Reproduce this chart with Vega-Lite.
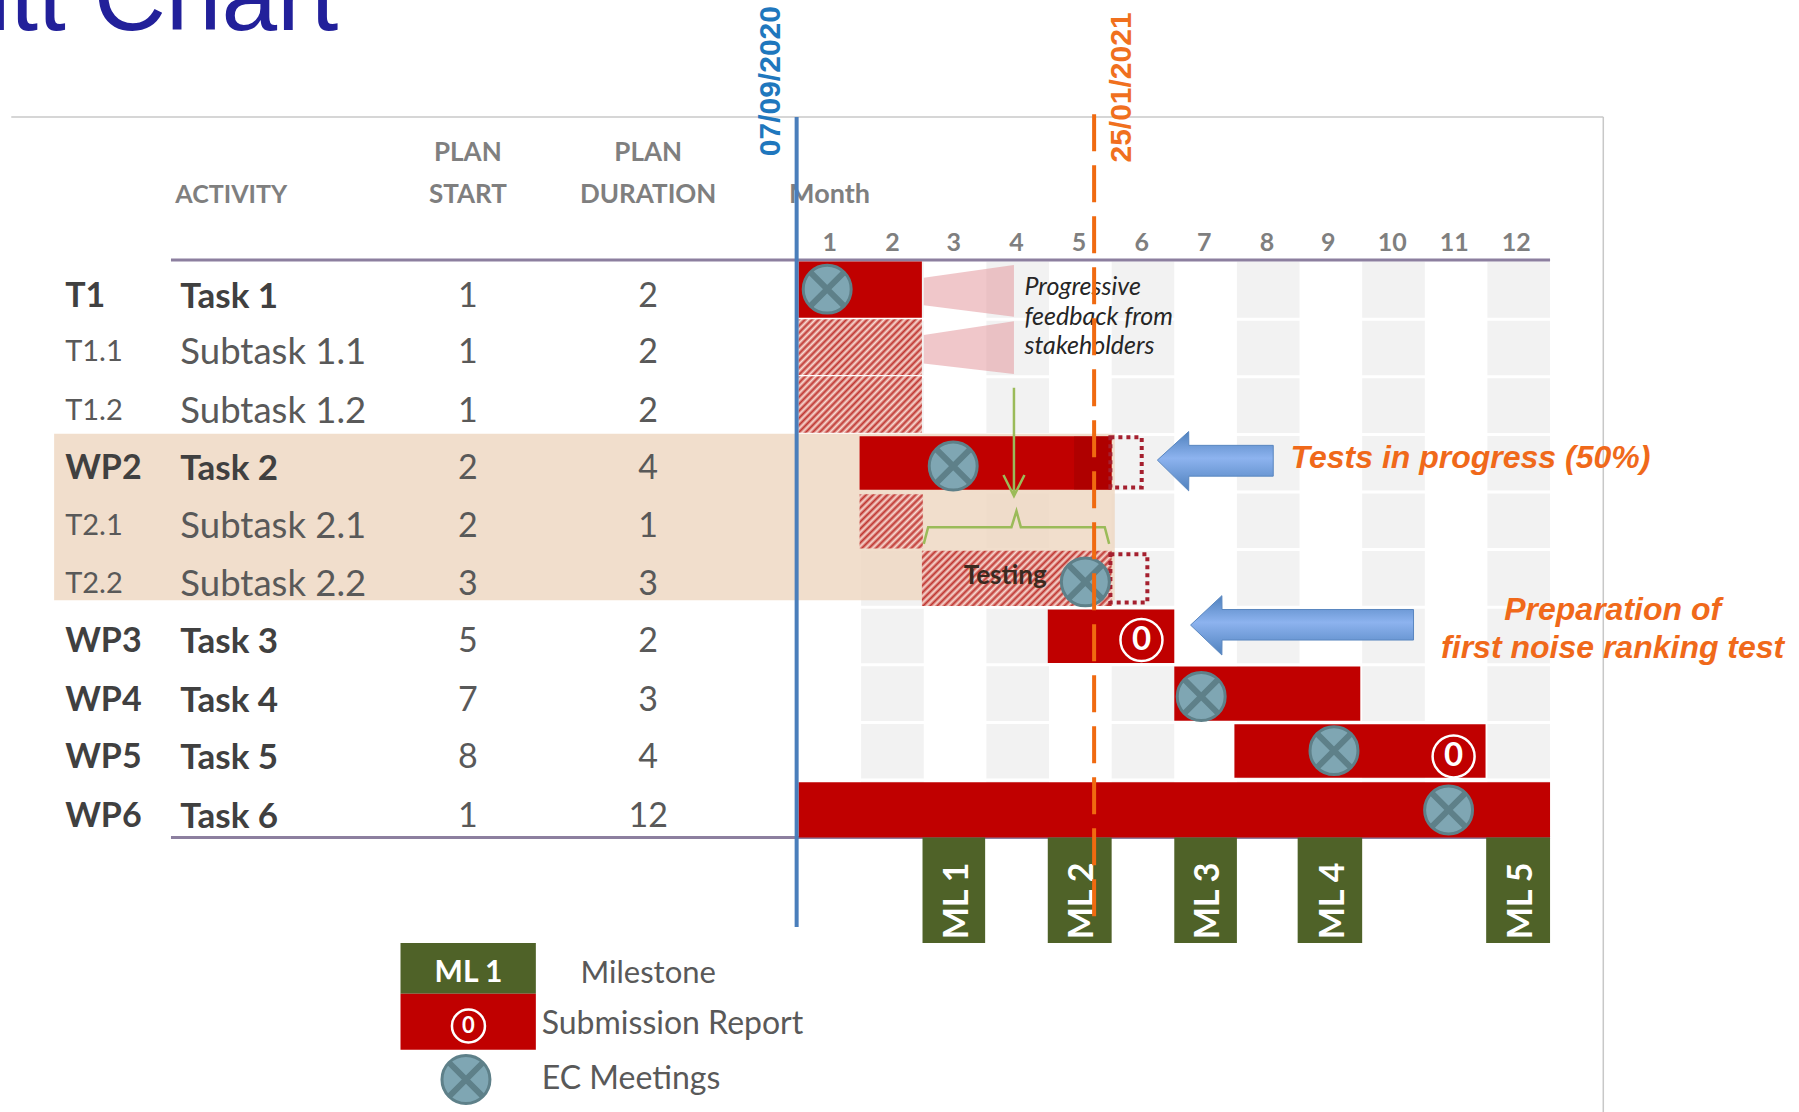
{
"$schema":"https://vega.github.io/schema/vega-lite/v6.json",
"width":1799,"height":1112,"padding":0,"autosize":{"type":"none"},"background":"white",
"config":{"view":{"stroke":null},"text":{"font":"Lato"}},
"params":[{"name":"hatchStops","value":[
{"offset":0,"color":"#bf3530"},{"offset":0.0147,"color":"#f9dcd4"},{"offset":0.0294,"color":"#bf3530"},{"offset":0.0441,"color":"#f9dcd4"},{"offset":0.0588,"color":"#bf3530"},{"offset":0.0735,"color":"#f9dcd4"},{"offset":0.0882,"color":"#bf3530"},{"offset":0.1029,"color":"#f9dcd4"},{"offset":0.1176,"color":"#bf3530"},{"offset":0.1324,"color":"#f9dcd4"},{"offset":0.1471,"color":"#bf3530"},{"offset":0.1618,"color":"#f9dcd4"},{"offset":0.1765,"color":"#bf3530"},{"offset":0.1912,"color":"#f9dcd4"},{"offset":0.2059,"color":"#bf3530"},{"offset":0.2206,"color":"#f9dcd4"},{"offset":0.2353,"color":"#bf3530"},{"offset":0.25,"color":"#f9dcd4"},{"offset":0.2647,"color":"#bf3530"},{"offset":0.2794,"color":"#f9dcd4"},{"offset":0.2941,"color":"#bf3530"},{"offset":0.3088,"color":"#f9dcd4"},{"offset":0.3235,"color":"#bf3530"},{"offset":0.3382,"color":"#f9dcd4"},{"offset":0.3529,"color":"#bf3530"},{"offset":0.3676,"color":"#f9dcd4"},{"offset":0.3824,"color":"#bf3530"},{"offset":0.3971,"color":"#f9dcd4"},{"offset":0.4118,"color":"#bf3530"},{"offset":0.4265,"color":"#f9dcd4"},{"offset":0.4412,"color":"#bf3530"},{"offset":0.4559,"color":"#f9dcd4"},{"offset":0.4706,"color":"#bf3530"},{"offset":0.4853,"color":"#f9dcd4"},{"offset":0.5,"color":"#bf3530"},{"offset":0.5147,"color":"#f9dcd4"},{"offset":0.5294,"color":"#bf3530"},{"offset":0.5441,"color":"#f9dcd4"},{"offset":0.5588,"color":"#bf3530"},{"offset":0.5735,"color":"#f9dcd4"},{"offset":0.5882,"color":"#bf3530"},{"offset":0.6029,"color":"#f9dcd4"},{"offset":0.6176,"color":"#bf3530"},{"offset":0.6324,"color":"#f9dcd4"},{"offset":0.6471,"color":"#bf3530"},{"offset":0.6618,"color":"#f9dcd4"},{"offset":0.6765,"color":"#bf3530"},{"offset":0.6912,"color":"#f9dcd4"},{"offset":0.7059,"color":"#bf3530"},{"offset":0.7206,"color":"#f9dcd4"},{"offset":0.7353,"color":"#bf3530"},{"offset":0.75,"color":"#f9dcd4"},{"offset":0.7647,"color":"#bf3530"},{"offset":0.7794,"color":"#f9dcd4"},{"offset":0.7941,"color":"#bf3530"},{"offset":0.8088,"color":"#f9dcd4"},{"offset":0.8235,"color":"#bf3530"},{"offset":0.8382,"color":"#f9dcd4"},{"offset":0.8529,"color":"#bf3530"},{"offset":0.8676,"color":"#f9dcd4"},{"offset":0.8824,"color":"#bf3530"},{"offset":0.8971,"color":"#f9dcd4"},{"offset":0.9118,"color":"#bf3530"},{"offset":0.9265,"color":"#f9dcd4"},{"offset":0.9412,"color":"#bf3530"},{"offset":0.9559,"color":"#f9dcd4"},{"offset":0.9706,"color":"#bf3530"},{"offset":0.9853,"color":"#f9dcd4"},{"offset":1,"color":"#bf3530"}
]}],
"datasets":{
"tasks":[
{"id":"T1","name":"Task 1","start":1,"duration":2,"level":"task","month":0,"month_end":1.97,"row":0,"row_end":0.976,"label_row":0.578,"fill":"solid"},
{"id":"T1.1","name":"Subtask 1.1","start":1,"duration":2,"level":"sub","month":0,"month_end":1.97,"row":1.0,"row_end":1.97,"label_row":1.55,"fill":"hatch2"},
{"id":"T1.2","name":"Subtask 1.2","start":1,"duration":2,"level":"sub","month":0,"month_end":1.97,"row":1.99,"row_end":2.97,"label_row":2.57,"fill":"hatch2"},
{"id":"WP2","name":"Task 2","start":2,"duration":4,"level":"task","month":0.975,"month_end":5,"row":3.03,"row_end":3.96,"label_row":3.566,"fill":"solid"},
{"id":"T2.1","name":"Subtask 2.1","start":2,"duration":1,"level":"sub","month":0.975,"month_end":1.985,"row":4.04,"row_end":4.98,"label_row":4.58,"fill":"hatch1"},
{"id":"T2.2","name":"Subtask 2.2","start":3,"duration":3,"level":"sub","month":1.97,"month_end":5,"row":5.02,"row_end":5.98,"label_row":5.58,"fill":"hatch3"},
{"id":"WP3","name":"Task 3","start":5,"duration":2,"level":"task","month":3.98,"month_end":6,"row":6.04,"row_end":6.97,"label_row":6.57,"fill":"solid"},
{"id":"WP4","name":"Task 4","start":7,"duration":3,"level":"task","month":6,"month_end":8.97,"row":7.03,"row_end":7.97,"label_row":7.59,"fill":"solid"},
{"id":"WP5","name":"Task 5","start":8,"duration":4,"level":"task","month":6.96,"month_end":10.97,"row":8.03,"row_end":8.96,"label_row":8.59,"fill":"solid"},
{"id":"WP6","name":"Task 6","start":1,"duration":12,"level":"task","month":0,"month_end":12,"row":9.04,"row_end":10,"label_row":9.6,"fill":"solid"}
],
"meetings":[
{"task":"Task 1","month":0.458,"row":0.478},
{"task":"Task 2","month":2.47,"row":3.55},
{"task":"Subtask 2.2","month":4.58,"row":5.56},
{"task":"Task 4","month":6.43,"row":7.55},
{"task":"Task 5","month":8.55,"row":8.49},
{"task":"Task 6","month":10.38,"row":9.52},
{"task":"legend","month":-5.31,"row":14.2}
],
"reports":[
{"task":"Task 3","month":5.476,"row":6.57,"label":"0"},
{"task":"Task 5","month":10.46,"row":8.59,"label":"0"}
],
"milestones":[
{"label":"ML 1","month":1.98,"month_end":2.98,"row":10,"row_end":11.83,"label_row":11.1,"mid":2.55},
{"label":"ML 2","month":3.98,"month_end":5,"row":10,"row_end":11.83,"label_row":11.1,"mid":4.55},
{"label":"ML 3","month":6,"month_end":7,"row":10,"row_end":11.83,"label_row":11.1,"mid":6.55},
{"label":"ML 4","month":7.97,"month_end":9,"row":10,"row_end":11.83,"label_row":11.1,"mid":8.55},
{"label":"ML 5","month":10.98,"month_end":12,"row":10,"row_end":11.83,"label_row":11.1,"mid":11.55}
],
"arrows":[
{"arrow":"a","month":5.73,"row":3.446,"row_end":3.446},
{"arrow":"a","month":6.23,"row":2.95,"row_end":3.98},
{"arrow":"a","month":6.232,"row":3.19,"row_end":3.725},
{"arrow":"a","month":7.58,"row":3.19,"row_end":3.725},
{"arrow":"b","month":6.26,"row":6.31,"row_end":6.31},
{"arrow":"b","month":6.76,"row":5.80,"row_end":6.83},
{"arrow":"b","month":6.762,"row":6.04,"row_end":6.57},
{"arrow":"b","month":9.82,"row":6.04,"row_end":6.57}
]
},
"encoding":{
"x":{"field":"month","type":"quantitative","scale":{"domain":[-12.75,15.975],"nice":false,"zero":false},"axis":null},
"y":{"field":"row","type":"quantitative","scale":{"domain":[-4.542,14.764],"reverse":true,"nice":false,"zero":false},"axis":null}
},
"layer":[
{"data":{"values":[{"month":1,"month_end":2,"row":0,"row_end":10},{"month":3,"month_end":4,"row":0,"row_end":10},{"month":5,"month_end":6,"row":0,"row_end":10},{"month":7,"month_end":8,"row":0,"row_end":10},{"month":9,"month_end":10,"row":0,"row_end":10},{"month":11,"month_end":12,"row":0,"row_end":10}]},
 "mark":{"type":"rect","fill":"#f2f2f2"},"encoding":{"x2":{"field":"month_end"},"y2":{"field":"row_end"}}},
{"data":{"values":[{"month":0,"month_end":12,"row":1},{"month":0,"month_end":12,"row":2},{"month":0,"month_end":12,"row":3},{"month":0,"month_end":12,"row":4},{"month":0,"month_end":12,"row":5},{"month":0,"month_end":12,"row":6},{"month":0,"month_end":12,"row":7},{"month":0,"month_end":12,"row":8},{"month":0,"month_end":12,"row":9}]},
 "mark":{"type":"rule","stroke":"white","strokeWidth":3},"encoding":{"x2":{"field":"month_end"}}},
{"data":{"values":[{"month":-11.886,"month_end":5.05,"row":2.99,"row_end":5.88}]},
 "mark":{"type":"rect","fill":"#eed6bf","opacity":0.8},"encoding":{"x2":{"field":"month_end"},"y2":{"field":"row_end"}}},
{"data":{"values":[{"month":-12.57,"month_end":12.85,"row":-2.51}]},
 "mark":{"type":"rule","stroke":"#c8c8c8","strokeWidth":1.5},"encoding":{"x2":{"field":"month_end"}}},
{"data":{"values":[{"month":12.85,"row":-2.51,"row_end":14.764}]},
 "mark":{"type":"rule","stroke":"#c8c8c8","strokeWidth":1.5},"encoding":{"y2":{"field":"row_end"}}},
{"data":{"values":[{"month":-10.02,"month_end":12,"row":-0.03},{"month":-10.02,"month_end":12,"row":10.0}]},
 "mark":{"type":"rule","stroke":"#8c7f9f","strokeWidth":3},"encoding":{"x2":{"field":"month_end"}}},
{"data":{"values":[{"label":"Gantt Chart","month":-7.35,"row":-4.02}]},
 "mark":{"type":"text","font":"Liberation Sans","fontSize":100,"align":"right","baseline":"alphabetic","fill":"#22209a"},"encoding":{"text":{"field":"label"}}},
{"data":{"values":[{"t":"a","month":2,"row":0.28,"row_end":0.757},{"t":"a","month":3.44,"row":0.06,"row_end":0.956},{"t":"b","month":2,"row":1.275,"row_end":1.77},{"t":"b","month":3.44,"row":1.036,"row_end":1.95}]},
 "mark":{"type":"area","orient":"vertical","fill":"#e28f95","opacity":0.5},"encoding":{"y2":{"field":"row_end"},"detail":{"field":"t"}}},
{"data":{"name":"tasks"},"transform":[{"filter":"datum.fill==='solid'"}],
 "mark":{"type":"rect","fill":"#c00000"},"encoding":{"x2":{"field":"month_end"},"y2":{"field":"row_end"}}},
{"data":{"name":"tasks"},"transform":[{"filter":"datum.fill==='hatch2'"}],
 "mark":{"type":"rect","fill":{"expr":"{gradient:'linear',x1:0,y1:0,x2:1.583,y2:0.7076,stops:hatchStops}"}},"encoding":{"x2":{"field":"month_end"},"y2":{"field":"row_end"}}},
{"data":{"name":"tasks"},"transform":[{"filter":"datum.fill==='hatch1'"}],
 "mark":{"type":"rect","fill":{"expr":"{gradient:'linear',x1:0,y1:0,x2:2.18,y2:1.88,stops:hatchStops}"}},"encoding":{"x2":{"field":"month_end"},"y2":{"field":"row_end"}}},
{"data":{"name":"tasks"},"transform":[{"filter":"datum.fill==='hatch3'"}],
 "mark":{"type":"rect","fill":{"expr":"{gradient:'linear',x1:0,y1:0,x2:1.166,y2:0.341,stops:hatchStops}"}},"encoding":{"x2":{"field":"month_end"},"y2":{"field":"row_end"}}},
{"data":{"values":[{"month":4.4,"month_end":5,"row":3.03,"row_end":3.96}]},
 "mark":{"type":"rect","fill":"#8f0000","opacity":0.35},"encoding":{"x2":{"field":"month_end"},"y2":{"field":"row_end"}}},
{"data":{"values":[{"month":4.98,"month_end":5.48,"row":3.05,"row_end":3.92},{"month":4.98,"month_end":5.57,"row":5.08,"row_end":5.92}]},
 "mark":{"type":"rect","fillOpacity":0,"stroke":"#a5202f","strokeWidth":4,"strokeDash":[4,4]},"encoding":{"x2":{"field":"month_end"},"y2":{"field":"row_end"}}},
{"data":{"name":"milestones"},"mark":{"type":"rect","fill":"#4f6228"},"encoding":{"x2":{"field":"month_end"},"y2":{"field":"row_end"}}},
{"data":{"name":"milestones"},"mark":{"type":"text","angle":270,"fontSize":34,"fontWeight":"bold","fill":"white","align":"center","baseline":"middle"},"encoding":{"x":{"field":"mid"},"y":{"field":"label_row"},"text":{"field":"label"}}},
{"data":{"values":[{"month":-6.355,"month_end":-4.194,"row":11.83,"row_end":12.71,"kind":"Milestone"}]},
 "mark":{"type":"rect","fill":"#4f6228"},"encoding":{"x2":{"field":"month_end"},"y2":{"field":"row_end"}}},
{"data":{"values":[{"month":-6.355,"month_end":-4.194,"row":12.71,"row_end":13.685,"kind":"Submission Report"}]},
 "mark":{"type":"rect","fill":"#c00000"},"encoding":{"x2":{"field":"month_end"},"y2":{"field":"row_end"}}},
{"data":{"values":[{"label":"ML 1","month":-5.27,"row":12.31}]},
 "mark":{"type":"text","fontSize":30,"fontWeight":"bold","fill":"white","align":"center","baseline":"middle","dy":2},"encoding":{"text":{"field":"label"}}},
{"data":{"values":[{"label":"Milestone","month":-2.4,"row":12.33}]},
 "mark":{"type":"text","fontSize":31,"fill":"#595959","align":"center","baseline":"middle","dy":2},"encoding":{"text":{"field":"label"}}},
{"data":{"values":[{"label":"Submission Report","month":-4.10,"row":13.2},{"label":"EC Meetings","month":-4.10,"row":14.16}]},
 "mark":{"type":"text","fontSize":32,"fill":"#595959","align":"left","baseline":"middle","dy":2},"encoding":{"text":{"field":"label"}}},
{"data":{"values":[{"label":"ACTIVITY","month":-9.95,"row":-1.175}]},
 "mark":{"type":"text","fontSize":25,"fontWeight":"bold","fill":"#7f7f7f","align":"left","baseline":"middle","dy":1},"encoding":{"text":{"field":"label"}}},
{"data":{"values":[{"label":"Month","month":-0.15,"row":-1.175}]},
 "mark":{"type":"text","fontSize":27,"fontWeight":"bold","fill":"#7f7f7f","align":"left","baseline":"middle","dy":1},"encoding":{"text":{"field":"label"}}},
{"data":{"values":[{"label":"PLAN","month":-5.28,"row":-1.91},{"label":"START","month":-5.28,"row":-1.175},{"label":"PLAN","month":-2.4,"row":-1.91},{"label":"DURATION","month":-2.4,"row":-1.175}]},
 "mark":{"type":"text","fontSize":26,"fontWeight":"bold","fill":"#7f7f7f","align":"center","baseline":"middle","dy":1},"encoding":{"text":{"field":"label"}}},
{"data":{"values":[{"label":"1","month":0.5,"row":-0.34},{"label":"2","month":1.5,"row":-0.34},{"label":"3","month":2.48,"row":-0.34},{"label":"4","month":3.48,"row":-0.34},{"label":"5","month":4.48,"row":-0.34},{"label":"6","month":5.48,"row":-0.34},{"label":"7","month":6.48,"row":-0.34},{"label":"8","month":7.48,"row":-0.34},{"label":"9","month":8.46,"row":-0.34},{"label":"10","month":9.48,"row":-0.34},{"label":"11","month":10.47,"row":-0.34},{"label":"12","month":11.46,"row":-0.34}]},
 "mark":{"type":"text","fontSize":25,"fontWeight":"bold","fill":"#7f7f7f","align":"center","baseline":"middle","dy":1},"encoding":{"text":{"field":"label"}}},
{"data":{"name":"tasks"},"transform":[{"filter":"datum.level==='task'"}],
 "mark":{"type":"text","fontSize":34,"fontWeight":"bold","fill":"#404040","align":"left","baseline":"middle","dy":2},"encoding":{"x":{"datum":-11.71},"y":{"field":"label_row"},"text":{"field":"id"}}},
{"data":{"name":"tasks"},"transform":[{"filter":"datum.level==='sub'"}],
 "mark":{"type":"text","fontSize":29,"fill":"#595959","align":"left","baseline":"middle","dy":1},"encoding":{"x":{"datum":-11.71},"y":{"field":"label_row"},"text":{"field":"id"}}},
{"data":{"name":"tasks"},"transform":[{"filter":"datum.level==='task'"}],
 "mark":{"type":"text","fontSize":35,"fontWeight":"bold","fill":"#404040","align":"left","baseline":"middle","dy":2},"encoding":{"x":{"datum":-9.87},"y":{"field":"label_row"},"text":{"field":"name"}}},
{"data":{"name":"tasks"},"transform":[{"filter":"datum.level==='sub'"}],
 "mark":{"type":"text","fontSize":36.5,"fill":"#595959","align":"left","baseline":"middle","dy":2},"encoding":{"x":{"datum":-9.87},"y":{"field":"label_row"},"text":{"field":"name"}}},
{"data":{"name":"tasks"},"mark":{"type":"text","fontSize":34,"fill":"#595959","align":"center","baseline":"middle","dy":2},"encoding":{"x":{"datum":-5.28},"y":{"field":"label_row"},"text":{"field":"start"}}},
{"data":{"name":"tasks"},"mark":{"type":"text","fontSize":34,"fill":"#595959","align":"center","baseline":"middle","dy":2},"encoding":{"x":{"datum":-2.4},"y":{"field":"label_row"},"text":{"field":"duration"}}},
{"data":{"values":[{"label":"Progressive","month":3.608,"row":0.44},{"label":"feedback from","month":3.608,"row":0.96},{"label":"stakeholders","month":3.608,"row":1.47}]},
 "mark":{"type":"text","fontSize":25,"fontStyle":"italic","fill":"#262626","align":"left","baseline":"middle"},"encoding":{"text":{"field":"label"}}},
{"data":{"values":[{"label":"Testing","month":3.30,"row":5.46}]},
 "mark":{"type":"text","fontSize":26,"fontWeight":"bold","fill":"#3a2a20","align":"center","baseline":"middle"},"encoding":{"text":{"field":"label"}}},
{"data":{"values":[{"month":3.44,"row":2.19,"row_end":4.05}]},
 "mark":{"type":"rule","stroke":"#9bbb59","strokeWidth":2.5},"encoding":{"y2":{"field":"row_end"}}},
{"data":{"values":[{"month":3.44,"row":3.887}]},
 "mark":{"type":"point","shape":"M-1,-1L0,1L1,-1","size":441,"filled":false,"stroke":"#9bbb59","strokeWidth":2.5,"opacity":1}},
{"data":{"values":[{"seq":1,"month":2.0,"row":4.9},{"seq":2,"month":2.07,"row":4.61},{"seq":3,"month":3.40,"row":4.61},{"seq":4,"month":3.48,"row":4.33},{"seq":5,"month":3.55,"row":4.61},{"seq":6,"month":4.89,"row":4.61},{"seq":7,"month":4.96,"row":4.9}]},
 "mark":{"type":"line","stroke":"#9bbb59","strokeWidth":2.5},"encoding":{"order":{"field":"seq"}}},
{"data":{"name":"meetings"},"mark":{"type":"point","shape":"circle","size":2300,"filled":true,"fill":"#7fa6b3","stroke":"#5e8089","strokeWidth":3,"opacity":1}},
{"data":{"name":"meetings"},"mark":{"type":"point","shape":"M-0.72,-0.72L0.72,0.72M-0.72,0.72L0.72,-0.72","size":2300,"filled":false,"stroke":"#5e8089","strokeWidth":6,"opacity":1}},
{"data":{"name":"reports"},"mark":{"type":"point","shape":"circle","size":1764,"filled":false,"stroke":"white","strokeWidth":2.5,"opacity":1}},
{"data":{"name":"reports"},"mark":{"type":"text","fontSize":33,"fontWeight":"bold","fill":"white","align":"center","baseline":"middle"},"encoding":{"text":{"field":"label"}}},
{"data":{"values":[{"month":-5.27,"row":13.27,"label":"0"}]},"mark":{"type":"point","shape":"circle","size":1089,"filled":false,"stroke":"white","strokeWidth":2.5,"opacity":1}},
{"data":{"values":[{"month":-5.27,"row":13.27,"label":"0"}]},"mark":{"type":"text","fontSize":22,"fontWeight":"bold","fill":"white","align":"center","baseline":"middle"},"encoding":{"text":{"field":"label"}}},
{"data":{"values":[{"month":-0.03,"row":-2.51,"row_end":11.55}]},
 "mark":{"type":"rule","stroke":"#4a7ebb","strokeWidth":4},"encoding":{"y2":{"field":"row_end"}}},
{"data":{"values":[{"month":4.72,"row":-2.56,"row_end":11.4}]},
 "mark":{"type":"rule","stroke":"#f06a10","strokeWidth":4,"strokeDash":[37,14]},"encoding":{"y2":{"field":"row_end"}}},
{"data":{"values":[{"label":"07/09/2020","month":-0.44,"row":-1.83}]},
 "mark":{"type":"text","font":"Liberation Sans","fontSize":30,"fontWeight":"bold","angle":270,"fill":"#1f77bd","align":"left","baseline":"middle"},"encoding":{"text":{"field":"label"}}},
{"data":{"values":[{"label":"25/01/2021","month":5.16,"row":-1.72}]},
 "mark":{"type":"text","font":"Liberation Sans","fontSize":30,"fontWeight":"bold","angle":270,"fill":"#f0701e","align":"left","baseline":"middle"},"encoding":{"text":{"field":"label"}}},
{"data":{"name":"arrows"},
 "mark":{"type":"area","orient":"vertical","stroke":"#5a87c0","strokeWidth":1,"fill":{"x1":0,"y1":0,"x2":0,"y2":1,"gradient":"linear","stops":[{"offset":0,"color":"#4f81bd"},{"offset":0.45,"color":"#8db3ef"},{"offset":1,"color":"#4f81bd"}]}},
 "encoding":{"y2":{"field":"row_end"},"detail":{"field":"arrow"}}},
{"data":{"values":[{"label":"Tests in progress (50%)","month":7.857,"row":3.41}]},
 "mark":{"type":"text","font":"Liberation Sans","fontSize":32,"fontWeight":"bold","fontStyle":"italic","fill":"#f0691a","align":"left","baseline":"middle"},"encoding":{"text":{"field":"label"}}},
{"data":{"values":[{"label":"Preparation of","month":13.0,"row":6.04},{"label":"first noise ranking test","month":13.0,"row":6.71}]},
 "mark":{"type":"text","font":"Liberation Sans","fontSize":32,"fontWeight":"bold","fontStyle":"italic","fill":"#f0691a","align":"center","baseline":"middle"},"encoding":{"text":{"field":"label"}}}
]
}
